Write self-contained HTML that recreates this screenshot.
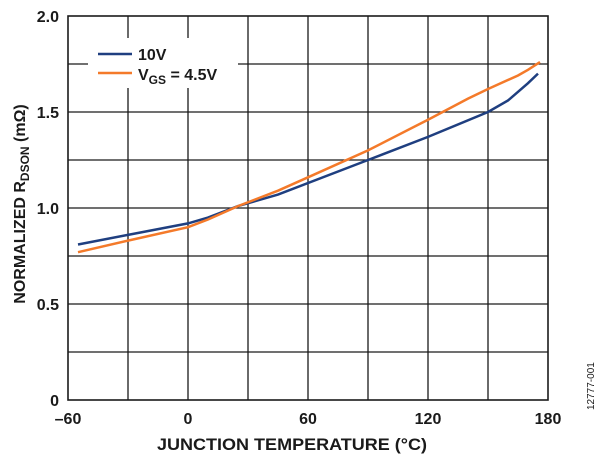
<!DOCTYPE html><html><head><style>body{margin:0;background:#fff}svg text{font-family:"Liberation Sans",Arial,sans-serif;font-weight:bold;fill:#1a1a1a}</style></head><body>
<svg width="604" height="461" viewBox="0 0 604 461" xmlns="http://www.w3.org/2000/svg">
<g stroke="#1a1a1a" stroke-width="1.3">
<line x1="128" y1="16" x2="128" y2="400"/><line x1="188" y1="16" x2="188" y2="400"/><line x1="248" y1="16" x2="248" y2="400"/><line x1="308" y1="16" x2="308" y2="400"/><line x1="368" y1="16" x2="368" y2="400"/><line x1="428" y1="16" x2="428" y2="400"/><line x1="488" y1="16" x2="488" y2="400"/>
<line x1="68" y1="64" x2="548" y2="64"/><line x1="68" y1="112" x2="548" y2="112"/><line x1="68" y1="160" x2="548" y2="160"/><line x1="68" y1="208" x2="548" y2="208"/><line x1="68" y1="256" x2="548" y2="256"/><line x1="68" y1="304" x2="548" y2="304"/><line x1="68" y1="352" x2="548" y2="352"/>
</g>
<rect x="88" y="38" width="150" height="50" fill="#fff"/>
<rect x="68" y="16" width="480" height="384" fill="none" stroke="#1a1a1a" stroke-width="1.6"/>
<polyline fill="none" stroke="#1f3f80" stroke-width="2.5" points="78,244.5 128,234.9 188,223.4 208,217.6 238,206.1 278,194.6 368,160 428,136.9 488,112 508,100.5 528,83.2 538,73.6"/>
<polyline fill="none" stroke="#f47a2a" stroke-width="2.5" points="78,252.2 128,240.6 188,227.2 208,219.5 238,206.1 278,190.7 308,177.3 368,150.4 428,119.7 468,98.6 488,89 518,75.5 528,69.8 540,62.1"/>
<line x1="98" y1="54" x2="132" y2="54" stroke="#1f3f80" stroke-width="2.5"/>
<line x1="98" y1="73" x2="132" y2="73" stroke="#f47a2a" stroke-width="2.5"/>
<text x="138" y="60" font-size="16">10V</text>
<text x="138" y="80" font-size="16">V<tspan font-size="12" dy="4">GS</tspan><tspan dy="-4"> = 4.5V</tspan></text>
<g font-size="16" text-anchor="end">
<text x="59" y="22">2.0</text><text x="59" y="118">1.5</text><text x="59" y="214">1.0</text><text x="59" y="310">0.5</text><text x="59" y="406">0</text></g>
<g font-size="16" text-anchor="middle">
<text x="68" y="424">–60</text><text x="188" y="424">0</text><text x="308" y="424">60</text><text x="428" y="424">120</text><text x="548" y="424">180</text></g>
<text x="292" y="450" font-size="17" text-anchor="middle" textLength="270" lengthAdjust="spacingAndGlyphs">JUNCTION TEMPERATURE (°C)</text>
<text transform="translate(25,204) rotate(-90)" font-size="16" text-anchor="middle">NORMALIZED R<tspan font-size="12" dy="4">DSON</tspan><tspan dy="-4"> (mΩ)</tspan></text>
<text transform="translate(594,410) rotate(-90)" font-size="10" style="font-weight:normal">12777-001</text>
</svg></body></html>
